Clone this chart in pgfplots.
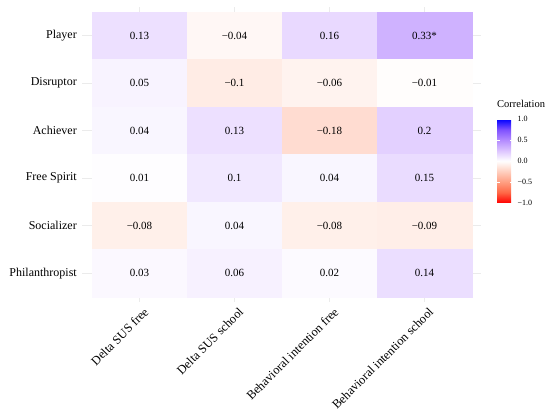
\documentclass[border=0pt]{standalone}
\usepackage{fontspec}
\setmainfont{Liberation Serif}
\usepackage{pgfplots}
\pgfplotsset{compat=1.18}
\definecolor{gridc}{HTML}{EBEBEB}
\pgfplotsset{colormap={rwb}{rgb255(0)=(255,0,0) rgb255(1)=(255,104,70) rgb255(2)=(255,158,129) rgb255(3)=(255,207,191) rgb255(4)=(255,255,255) rgb255(5)=(220,196,255) rgb255(6)=(179,139,255) rgb255(7)=(126,81,255) rgb255(8)=(0,0,255)}}
\begin{document}
\begin{tikzpicture}
\begin{axis}[
  at={(0,0)}, anchor=south west,
  scale only axis, width=399bp, height=294.5bp,
  xmin=-0.6, xmax=3.6, ymin=-0.6, ymax=5.6, y dir=reverse,
  xtick={0,1,2,3}, ytick={0,1,2,3,4,5},
  xticklabels={Delta SUS free, Delta SUS school, Behavioral intention free, Behavioral intention school},
  yticklabels={Player, Disruptor, Achiever, Free Spirit, Socializer, Philanthropist},
  axis line style={draw=none}, major tick length=0pt,
  grid=major, grid style={gridc, line width=0.6bp},
  x tick label style={rotate=45, anchor=north east, font=\fontsize{12.4bp}{14bp}\selectfont, inner sep=0pt, yshift=-6bp, xshift=-1bp},
  y tick label style={font=\fontsize{12bp}{14bp}\selectfont, inner sep=0pt, xshift=-5.5bp},
  colormap name=rwb, point meta min=-1, point meta max=1,
  colorbar,
  colorbar style={
    at={(1.03885,0.62054)}, anchor=north west,
    scale only axis, width=16bp, height=84bp,
    axis line style={draw=none},
    ytick={-1,-0.5,0,0.5,1},
    yticklabels={−1.0,−0.5,0.0,0.5,1.0},
    y tick label style={font=\fontsize{8bp}{9bp}\selectfont, inner sep=0pt, xshift=4.5bp},
    ytick style={white, line width=0.5bp}, major tick length=3.2bp, tick align=inside, ytick pos=both,
    yticklabel pos=right,
    title=Correlation,
    title style={at={(0,1)}, anchor=south west, inner sep=0pt, yshift=5bp, font=\fontsize{10.5bp}{12bp}\selectfont},
  },
]
\addplot[matrix plot*, mesh/cols=4, mesh/rows=6, point meta=explicit] table[meta=c] {
x y c
0 0 0.13
1 0 -0.04
2 0 0.16
3 0 0.33
0 1 0.05
1 1 -0.1
2 1 -0.06
3 1 -0.01
0 2 0.04
1 2 0.13
2 2 -0.18
3 2 0.2
0 3 0.01
1 3 0.1
2 3 0.04
3 3 0.15
0 4 -0.08
1 4 0.04
2 4 -0.08
3 4 -0.09
0 5 0.03
1 5 0.06
2 5 0.02
3 5 0.14
};
\addplot[draw=none, mark=none, nodes near coords, point meta=explicit symbolic,
  nodes near coords style={anchor=center, font=\fontsize{11bp}{13bp}\selectfont, text=black, inner sep=0pt}] table[meta=lab] {
x y lab
0 0 0.13
1 0 −0.04
2 0 0.16
3 0 0.33*
0 1 0.05
1 1 −0.1
2 1 −0.06
3 1 −0.01
0 2 0.04
1 2 0.13
2 2 −0.18
3 2 0.2
0 3 0.01
1 3 0.1
2 3 0.04
3 3 0.15
0 4 −0.08
1 4 0.04
2 4 −0.08
3 4 −0.09
0 5 0.03
1 5 0.06
2 5 0.02
3 5 0.14
};
\end{axis}
\pgfresetboundingbox
\useasboundingbox (-82.5bp,-115.25bp) rectangle (467.5bp,301.75bp);
\end{tikzpicture}
\end{document}
